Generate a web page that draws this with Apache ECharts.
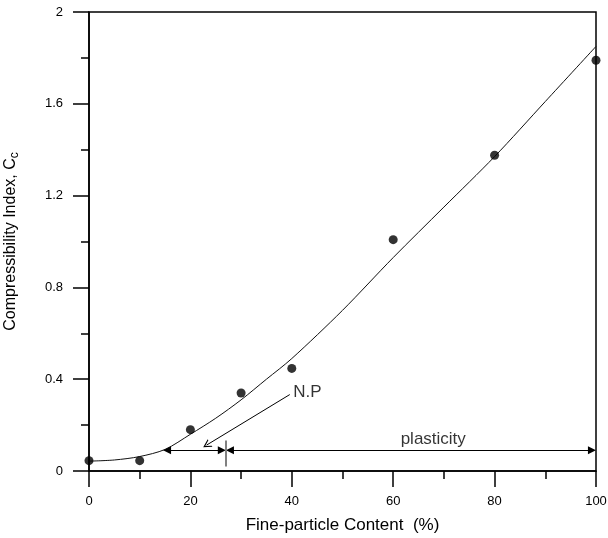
<!DOCTYPE html>
<html>
<head>
<meta charset="utf-8">
<script src="https://cdn.jsdelivr.net/npm/echarts@6/dist/echarts.min.js"></script>
<style>
  html, body { margin: 0; padding: 0; background: #fff; }
  #chart { width: 608px; height: 538px; }
</style>
</head>
<body>
<div id="chart"></div>
<script>
// Measured compressibility index vs. fine-particle content
const fineContent = [0, 10, 20, 30, 40, 60, 80, 100];
const ccMeasured = [0.045, 0.045, 0.18, 0.34, 0.447, 1.008, 1.376, 1.79];

// Fitted trend curve
const fitContent = [0, 5, 10, 15, 20, 25, 30, 35, 40, 50, 60, 70, 80, 90, 100];
const ccFit = [0.043, 0.048, 0.063, 0.094, 0.16, 0.23, 0.31, 0.40, 0.49, 0.70, 0.93, 1.15, 1.37, 1.61, 1.85];

// Axis ticks
const xTicks = [0, 20, 40, 60, 80, 100];
const yTicks = [0, 0.4, 0.8, 1.2, 1.6, 2];

// Range annotations (data units)
const rangeLevel = 0.09;
const npStart = 15.4;
const npBoundary = 27;
const plasticEnd = 99.2;
const boundaryTick = [0.02, 0.133];
const npPointerFrom = [39.6, 0.333];
const npPointerTo = [23.2, 0.113];
const npLabelAt = [40.2, 0.343];
const plasticLabelAt = [67.9, 0.137];

const chevron = 'path://M5,0 L10,10 L8.6,10 L5,3 L1.4,10 L0,10 Z';

const chart = echarts.init(document.getElementById('chart'), null, { renderer: 'canvas' });

const axisColor = '#000';
const tickFont = { color: '#000', fontSize: 13, fontFamily: 'Liberation Sans, Arial, sans-serif' };

chart.setOption({
  animation: false,
  backgroundColor: '#fff',
  grid: {
    left: 89, right: 12, top: 12, bottom: 67,
    containLabel: false,
    outerBoundsMode: 'none',
    show: true,
    borderColor: '#000',
    borderWidth: 1.5,
    backgroundColor: 'transparent'
  },
  xAxis: {
    type: 'value',
    min: xTicks[0], max: xTicks[xTicks.length - 1], interval: 20,
    name: 'Fine-particle Content  (%)',
    nameLocation: 'middle',
    nameGap: 46,
    nameTextStyle: { color: '#000', fontSize: 17, fontFamily: 'Liberation Sans, Arial, sans-serif' },
    axisLine: { show: true, onZero: false, lineStyle: { color: axisColor, width: 1.5 } },
    axisTick: { show: true, inside: false, length: 16, lineStyle: { color: axisColor, width: 1.5 } },
    minorTick: { show: true, splitNumber: 2, length: 8, lineStyle: { color: axisColor, width: 1.5 } },
    axisLabel: Object.assign({ margin: 24 }, tickFont),
    splitLine: { show: false }
  },
  yAxis: {
    type: 'value',
    min: yTicks[0], max: yTicks[yTicks.length - 1], interval: 0.4,
    name: '{a|Compressibility Index, C}{b|c}',
    nameLocation: 'middle',
    nameGap: 68,
    nameTextStyle: {
      rich: {
        a: { color: '#000', fontSize: 16, fontFamily: 'Liberation Sans, Arial, sans-serif', lineHeight: 20 },
        b: { color: '#000', fontSize: 12, fontFamily: 'Liberation Sans, Arial, sans-serif', lineHeight: 20, verticalAlign: 'bottom', padding: [4, 0, 0, 0] }
      }
    },
    axisLine: { show: true, onZero: false, lineStyle: { color: axisColor, width: 1.5 } },
    axisTick: { show: true, inside: false, length: 16, lineStyle: { color: axisColor, width: 1.5 } },
    minorTick: { show: true, splitNumber: 2, length: 8, lineStyle: { color: axisColor, width: 1.5 } },
    axisLabel: Object.assign({ margin: 26 }, tickFont),
    splitLine: { show: false }
  },
  series: [
    {
      name: 'fit',
      type: 'line',
      data: fitContent.map((x, i) => [x, ccFit[i]]),
      smooth: 0.3,
      symbol: 'none',
      lineStyle: { color: '#111', width: 1 },
      z: 3,
      markLine: {
        silent: true,
        animation: false,
        label: { show: false },
        data: [
          [
            { coord: [npStart, rangeLevel], symbol: 'triangle', symbolSize: [8, 8], lineStyle: { color: '#000', width: 1, type: 'solid' } },
            { coord: [npBoundary - 0.8, rangeLevel], symbol: 'triangle', symbolSize: [8, 8] }
          ],
          [
            { coord: [npBoundary + 0.8, rangeLevel], symbol: 'triangle', symbolSize: [8, 8], lineStyle: { color: '#000', width: 1, type: 'solid' } },
            { coord: [plasticEnd, rangeLevel], symbol: 'triangle', symbolSize: [8, 8] }
          ],
          [
            { coord: [npBoundary, boundaryTick[0]], symbol: 'none', lineStyle: { color: '#808080', width: 2, type: 'solid' } },
            { coord: [npBoundary, boundaryTick[1]], symbol: 'none' }
          ],
          [
            { coord: npPointerFrom, symbol: 'none', lineStyle: { color: '#000', width: 1, type: 'solid' } },
            { coord: npPointerTo, symbol: chevron, symbolSize: [9, 8] }
          ]
        ]
      }
    },
    {
      name: 'measured',
      type: 'scatter',
      data: fineContent.map((x, i) => [x, ccMeasured[i]]),
      symbol: 'circle',
      symbolSize: 9,
      itemStyle: { color: '#000' },
      z: 4
    },
    {
      name: 'labels',
      type: 'scatter',
      silent: true,
      symbolSize: 1,
      itemStyle: { color: 'transparent' },
      data: [
        { value: npLabelAt, label: { show: true, formatter: 'N.P', position: 'right', distance: 0, align: 'left', verticalAlign: 'middle' } },
        { value: plasticLabelAt, label: { show: true, formatter: 'plasticity', position: 'inside', align: 'center', verticalAlign: 'middle' } }
      ],
      label: { color: '#000', fontSize: 17, fontFamily: 'Liberation Sans, Arial, sans-serif' },
      z: 5
    }
  ]
});
</script>
</body>
</html>
